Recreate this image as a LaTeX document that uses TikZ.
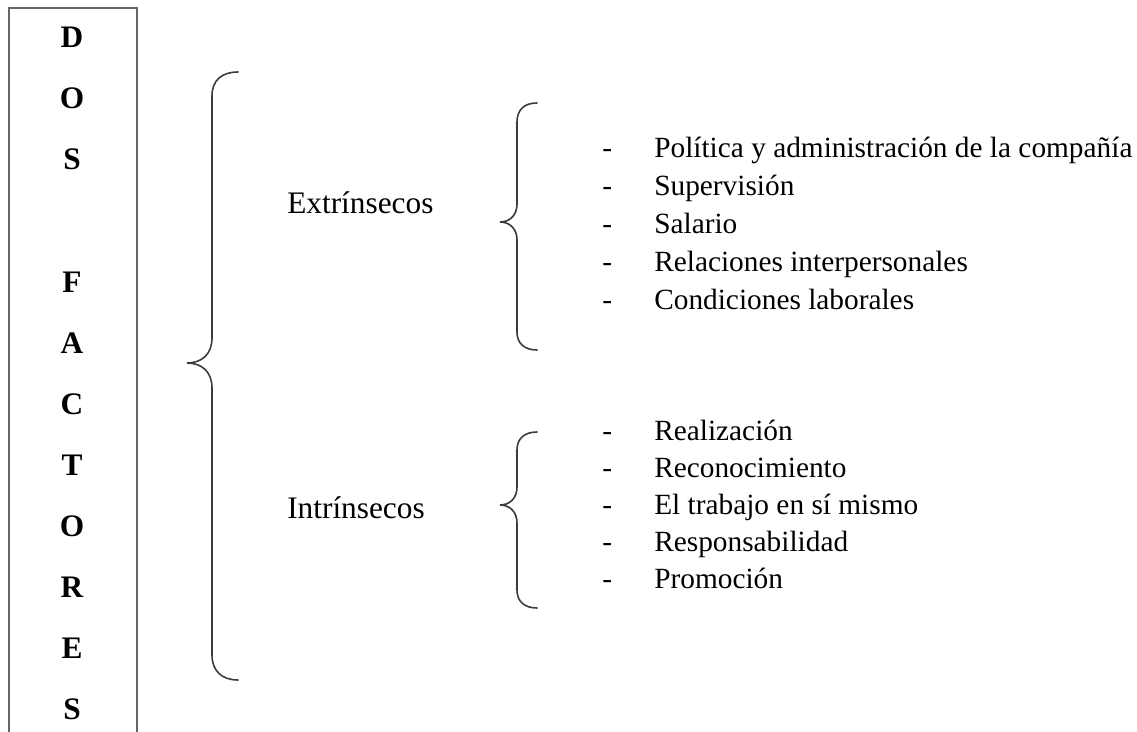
\documentclass[tikz,border=0pt]{standalone}
\usepackage{fontspec}
\setmainfont{Liberation Serif}
\definecolor{boxgray}{HTML}{666666}
\definecolor{bracegray}{HTML}{3C3C3C}
\tikzset{
  boxline/.style={draw=boxgray,line width=1.6pt},
  braceline/.style={draw=bracegray,line width=1.2pt,line cap=round},
  letter/.style={inner sep=0pt,anchor=base,font=\fontsize{23.5}{28}\selectfont\bfseries},
  label/.style={inner sep=0pt,anchor=base west,font=\fontsize{23.5}{28}\selectfont},
  item/.style={inner sep=0pt,anchor=base west,font=\fontsize{22}{26}\selectfont},
  dashmark/.style={inner sep=0pt,anchor=base west,font=\fontsize{22}{26}\selectfont}
}
\begin{document}
\begin{tikzpicture}[x=0.75pt,y=-0.75pt]
\useasboundingbox (0,0) rectangle (1137,731);
% left box (open at the bottom)
\draw[boxline] (9,760) -- (9,8) -- (137,8) -- (137,760);
% vertical title letters
\foreach \ch/\yy [count=\i] in {D/38,O/99,S/160,F/282,A/343,C/404,T/465,O/526,R/587,E/648,S/709}{
  \node[letter] (L\i) at (72,\yy+10) {\ch};
}
% big brace
\draw[braceline] (238,72) .. controls (222,72) and (212,80) .. (212,96)
  -- (212,338) .. controls (212,354) and (202,363) .. (187,363)
  .. controls (202,363) and (212,372) .. (212,388)
  -- (212,655) .. controls (212,671) and (222,680) .. (238,680);
% upper small brace
\draw[braceline] (537,103) .. controls (524,103) and (517,110) .. (517,122)
  -- (517,204) .. controls (517,215) and (510,222) .. (500,222)
  .. controls (510,222) and (517,229) .. (517,240)
  -- (517,332) .. controls (517,343) and (524,350) .. (537,350);
% lower small brace
\draw[braceline] (537,432) .. controls (524,432) and (517,439) .. (517,450)
  -- (517,487) .. controls (517,498) and (510,505) .. (500,505)
  .. controls (510,505) and (517,512) .. (517,523)
  -- (517,590) .. controls (517,601) and (524,608) .. (537,608);
% category labels
\node[label] (ext) at (287,213) {Extrínsecos};
\node[label] (int) at (287,518) {Intrínsecos};
% extrinsic items
\foreach \txt/\yy [count=\i] in {{Política y administración de la compañía}/157,{Supervisión}/195,{Salario}/233,{Relaciones interpersonales}/271,{Condiciones laborales}/309}{
  \node[dashmark] (ed\i) at (602,\yy) {-};
  \node[item] (e\i) at (654,\yy) {\txt};
}
% intrinsic items
\foreach \txt/\yy [count=\i] in {{Realización}/440,{Reconocimiento}/477,{El trabajo en sí mismo}/514,{Responsabilidad}/551,{Promoción}/588}{
  \node[dashmark] (id\i) at (602,\yy) {-};
  \node[item] (i\i) at (654,\yy) {\txt};
}
\end{tikzpicture}
\end{document}
